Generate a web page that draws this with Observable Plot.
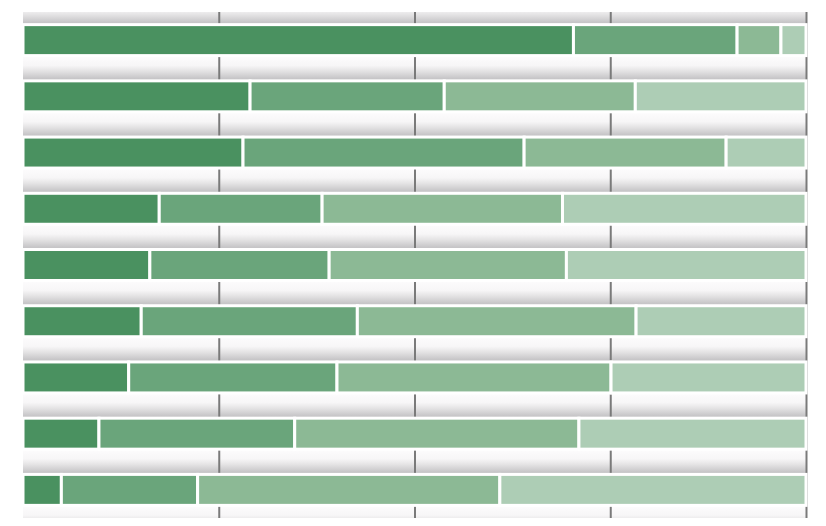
<!DOCTYPE html>
<html><head><meta charset="utf-8">
<script src="https://cdn.jsdelivr.net/npm/d3@7"></script>
<script src="https://cdn.jsdelivr.net/npm/@observablehq/plot@0.6"></script>
<style>html,body{margin:0;padding:0;background:#fff;}</style>
</head><body><div id="chart"></div>
<script>
const rows = ["Row 1","Row 2","Row 3","Row 4","Row 5","Row 6","Row 7","Row 8","Row 9"];
const series = ["Segment A","Segment B","Segment C","Segment D"];
const seriesA = [70.3, 29.0, 28.1, 17.4, 16.2, 15.1, 13.5, 9.7, 4.9];
const seriesB = [20.9, 24.8, 35.9, 20.8, 22.9, 27.6, 26.6, 25.0, 17.4];
const seriesC = [5.6, 24.4, 25.8, 30.7, 30.3, 35.6, 35.0, 36.3, 38.6];
const seriesD = [3.2, 21.8, 10.2, 31.1, 30.6, 21.7, 24.9, 29.0, 39.1];
const colors = ["#4a9160", "#6aa57b", "#8cb995", "#adcdb5"];
const gridTicks = [25, 50, 75, 100];

const table = rows.flatMap((row, i) => {
  const vals = [seriesA[i], seriesB[i], seriesC[i], seriesD[i]];
  let acc = 0;
  return vals.map((v, j) => {
    const start = acc; acc += v;
    return {row, index: i, series: series[j], x1: start, x2: acc};
  });
});

const chart = Plot.plot({
  width: 826,
  height: 526,
  marginTop: 12,
  marginBottom: 8,
  marginLeft: 23,
  marginRight: 20,
  x: {domain: [0, 100], axis: null},
  y: {domain: [0, rows.length], reverse: true, axis: null},
  color: {domain: series, range: colors},
  marks: [
    Plot.rect(d3.range(rows.length + 1), {
      x1: 0, x2: 100,
      y1: k => k - 0.25, y2: k => k + 0.25,
      fill: "url(#bandGrad)", clip: "frame"
    }),
    Plot.ruleX(gridTicks, {x: d => d, y1: 0, y2: rows.length, stroke: "#7a7a7a", strokeWidth: 2}),
    Plot.rect(table, {
      x1: "x1", x2: "x2",
      y1: d => d.index + 0.2245, y2: d => d.index + 0.7755,
      fill: "series", stroke: "white", strokeWidth: 3
    })
  ]
});

const defs = document.createElementNS("http://www.w3.org/2000/svg", "defs");
defs.innerHTML = `<linearGradient id="bandGrad" x1="0" y1="0" x2="0" y2="1">
  <stop offset="0" stop-color="#fefdfe"/>
  <stop offset="0.4" stop-color="#f7f6f7"/>
  <stop offset="0.6" stop-color="#e4e3e4"/>
  <stop offset="0.85" stop-color="#c8c7c9"/>
  <stop offset="1" stop-color="#bdbcbe"/>
</linearGradient>`;
chart.insertBefore(defs, chart.firstChild);
document.getElementById("chart").append(chart);
</script>
</body></html>
